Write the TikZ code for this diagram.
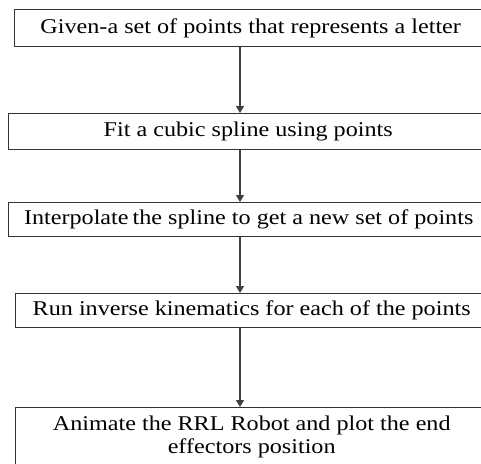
\documentclass[tikz,border=0pt]{standalone}
\usepackage{fontspec}
\setmainfont{Liberation Serif}
\newfontfamily\boxfont[FakeStretch=1.15]{Liberation Serif}
\usetikzlibrary{arrows.meta}
\begin{document}
\begin{tikzpicture}[x=1pt,y=-1pt,
  stepbox/.style={draw=black!80,line width=1.4pt,inner sep=0pt,anchor=north west,align=center,
    font=\boxfont\fontsize{21}{23}\selectfont},
  arr/.style={draw=black!75,line width=1.3pt,-{Triangle[length=7pt,width=8pt]}}]
\useasboundingbox (0,0) rectangle (481,463);
\clip (0,0) rectangle (481,463);
\fill[white] (0,0) rectangle (481,463);
\coordinate (ax) at (240,0);
\node[stepbox,minimum width=472pt,minimum height=37pt] (b1) at (14,9) {Given-a set of points that represents a letter};
\node[stepbox,minimum width=479pt,minimum height=36pt] (b2) at (8,113) {Fit a cubic spline using points};
\node[stepbox,minimum width=480pt,minimum height=34pt] (b3) at (8,202) {Interpolate\hspace{-2pt} the spline to get a new set of points};
\node[stepbox,minimum width=472pt,minimum height=34pt] (b4) at (15,293) {Run inverse kinematics for each of the points};
\node[stepbox,minimum width=472pt,minimum height=59pt] (b5) at (15,407) {Animate the RRL Robot and plot the end\\effectors position};
\draw[arr] (b1.south -| ax) -- (b2.north -| ax);
\draw[arr] (b2.south -| ax) -- (b3.north -| ax);
\draw[arr] (b3.south -| ax) -- (b4.north -| ax);
\draw[arr] (b4.south -| ax) -- (b5.north -| ax);
\end{tikzpicture}
\end{document}
